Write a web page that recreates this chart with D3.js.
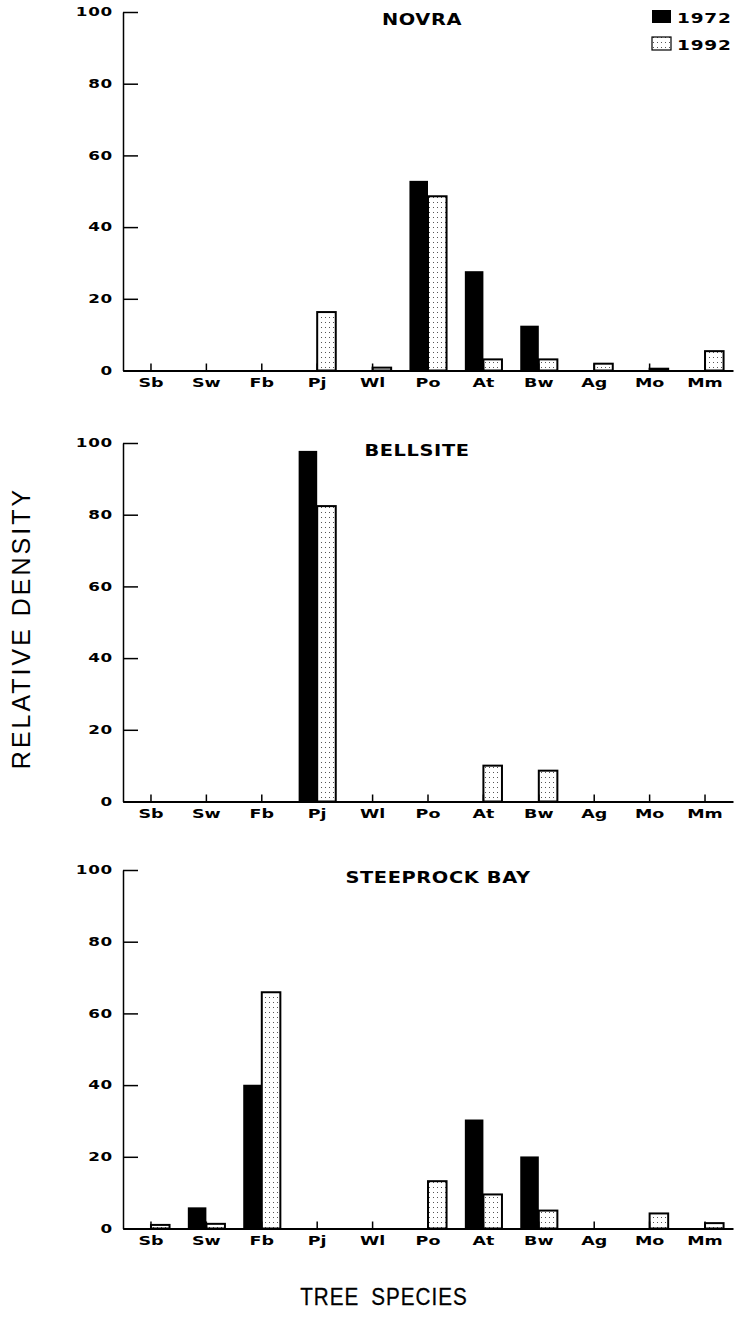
<!DOCTYPE html>
<html>
<head>
<meta charset="utf-8">
<script src="https://cdn.jsdelivr.net/npm/d3@7"></script>
<style>
  body { margin: 0; background: #fff; }
  svg { display: block; }
</style>
</head>
<body>
<div id="chart"></div>
<script>
(function () {
  // species on the x axis
  const species = ["Sb", "Sw", "Fb", "Pj", "Wl", "Po", "At", "Bw", "Ag", "Mo", "Mm"];
  const years = ["1972", "1992"];
  const yTicks = [0, 20, 40, 60, 80, 100];

  // relative density
  const novra1972 = [0, 0, 0, 0, 0, 52.9, 27.7, 12.5, 0, 0, 0];
  const novra1992 = [0, 0, 0, 16.3, 0.8, 48.6, 3.1, 3.1, 1.9, 0.5, 5.4];
  const bellsite1972 = [0, 0, 0, 97.8, 0, 0, 0, 0, 0, 0, 0];
  const bellsite1992 = [0, 0, 0, 82.4, 0, 0, 10.0, 8.6, 0, 0, 0];
  const steeprock1972 = [0, 5.9, 40.1, 0, 0, 0, 30.4, 20.1, 0, 0, 0];
  const steeprock1992 = [1.0, 1.3, 65.9, 0, 0, 13.2, 9.5, 5.0, 0, 4.2, 1.5];

  const panels = [
    { title: "NOVRA", a: novra1972, b: novra1992, top: 12, titleX: 422 },
    { title: "BELLSITE", a: bellsite1972, b: bellsite1992, top: 443, titleX: 417 },
    { title: "STEEPROCK BAY", a: steeprock1972, b: steeprock1992, top: 870, titleX: 438 }
  ];

  const W = 735, H = 1326;
  const panelH = 358.5;
  const x0 = 123, x1 = 733;
  const font = "'DejaVu Sans', Arial, sans-serif";
  const stretch = 1.4;

  const svg = d3.select("#chart").append("svg")
    .attr("width", W)
    .attr("height", H);

  // stipple fill for 1992 bars
  const pat = svg.append("defs").append("pattern")
    .attr("id", "stipple")
    .attr("patternUnits", "userSpaceOnUse")
    .attr("width", 4)
    .attr("height", 5);
  pat.append("rect").attr("width", 4).attr("height", 5).attr("fill", "#fff");
  pat.append("rect").attr("x", 1).attr("y", 2).attr("width", 1).attr("height", 1).attr("fill", "#555");

  const x = d3.scaleBand()
    .domain(species)
    .range([x0, x1])
    .paddingInner(0.33)
    .paddingOuter(0.17);
  const half = x.bandwidth() / 2;

  panels.forEach(p => {
    const y = d3.scaleLinear()
      .domain([0, 100])
      .range([p.top + panelH, p.top]);

    const g = svg.append("g");

    // bars
    const rows = species.map((s, i) => ({ s, a: p.a[i], b: p.b[i] }));

    g.selectAll(".bar72")
      .data(rows.filter(d => d.a > 0))
      .join("rect")
      .attr("x", d => x(d.s))
      .attr("y", d => y(d.a))
      .attr("width", half)
      .attr("height", d => y(0) - y(d.a))
      .attr("fill", "#000");

    g.selectAll(".bar92")
      .data(rows.filter(d => d.b > 0))
      .join("rect")
      .attr("x", d => x(d.s) + half)
      .attr("y", d => y(d.b))
      .attr("width", half)
      .attr("height", d => y(0) - y(d.b))
      .attr("fill", "url(#stipple)")
      .attr("stroke", "#000")
      .attr("stroke-width", 2);

    // x axis, ticks point up
    g.append("g")
      .attr("transform", `translate(0,${y(0)})`)
      .call(d3.axisBottom(x).tickSizeInner(-7).tickSizeOuter(0))
      .call(a => a.select(".domain").attr("stroke-width", 2))
      .call(a => a.selectAll(".tick line").attr("stroke-width", 1.5))
      .call(a => a.selectAll("text")
        .attr("y", 17)
        .attr("dy", null)
        .attr("transform", `scale(${stretch},1)`)
        .attr("font-family", font)
        .attr("font-weight", "bold")
        .attr("font-size", 12.5)
        .attr("fill", "#000"));

    // y axis, ticks point right
    g.append("g")
      .attr("transform", `translate(${x0},0)`)
      .call(d3.axisLeft(y).tickValues(yTicks).tickSizeInner(-15).tickSizeOuter(0))
      .call(a => a.select(".domain").attr("stroke-width", 1.5))
      .call(a => a.selectAll(".tick line").attr("stroke-width", 1.5))
      .call(a => a.selectAll("text")
        .attr("x", -10 / stretch)
        .attr("transform", `scale(${stretch},1)`)
        .attr("font-family", font)
        .attr("font-weight", "bold")
        .attr("font-size", 12)
        .attr("letter-spacing", 0.5)
        .attr("fill", "#000"));

    // panel title
    g.append("text")
      .attr("transform", `translate(${p.titleX},${p.top + 12.5}) scale(1.25,1)`)
      .attr("text-anchor", "middle")
      .attr("font-family", font)
      .attr("font-weight", "bold")
      .attr("font-size", 15.5)
      .attr("letter-spacing", 0.5)
      .text(p.title);
  });

  // legend
  const legend = svg.append("g");
  years.forEach((yr, i) => {
    const ly = 10 + i * 27;
    legend.append("rect")
      .attr("x", 652)
      .attr("y", ly)
      .attr("width", 19)
      .attr("height", 13)
      .attr("fill", i === 0 ? "#000" : "url(#stipple)")
      .attr("stroke", "#000")
      .attr("stroke-width", i === 0 ? 0 : 1.2);
    legend.append("text")
      .attr("transform", `translate(677,${ly + 13}) scale(1.35,1)`)
      .attr("font-family", font)
      .attr("font-weight", "bold")
      .attr("font-size", 13.7)
      .attr("letter-spacing", 0.6)
      .text(yr);
  });

  // axis titles
  svg.append("text")
    .attr("transform", "translate(21,628) rotate(-90)")
    .attr("text-anchor", "middle")
    .attr("dy", "0.36em")
    .attr("font-family", "'Liberation Sans', Arial, sans-serif")
    .attr("font-size", 25)
    .attr("letter-spacing", 3)
    .text("RELATIVE DENSITY");

  // condensed look for the bottom title
  svg.append("text")
    .attr("transform", "translate(384,1305) scale(0.86,1)")
    .attr("text-anchor", "middle")
    .attr("font-family", "'Liberation Sans', Arial, sans-serif")
    .attr("font-size", 24)
    .attr("letter-spacing", 1.2)
    .attr("word-spacing", 6)
    .attr("stroke", "#000")
    .attr("stroke-width", 0.3)
    .text("TREE SPECIES");
})();
</script>
</body>
</html>
